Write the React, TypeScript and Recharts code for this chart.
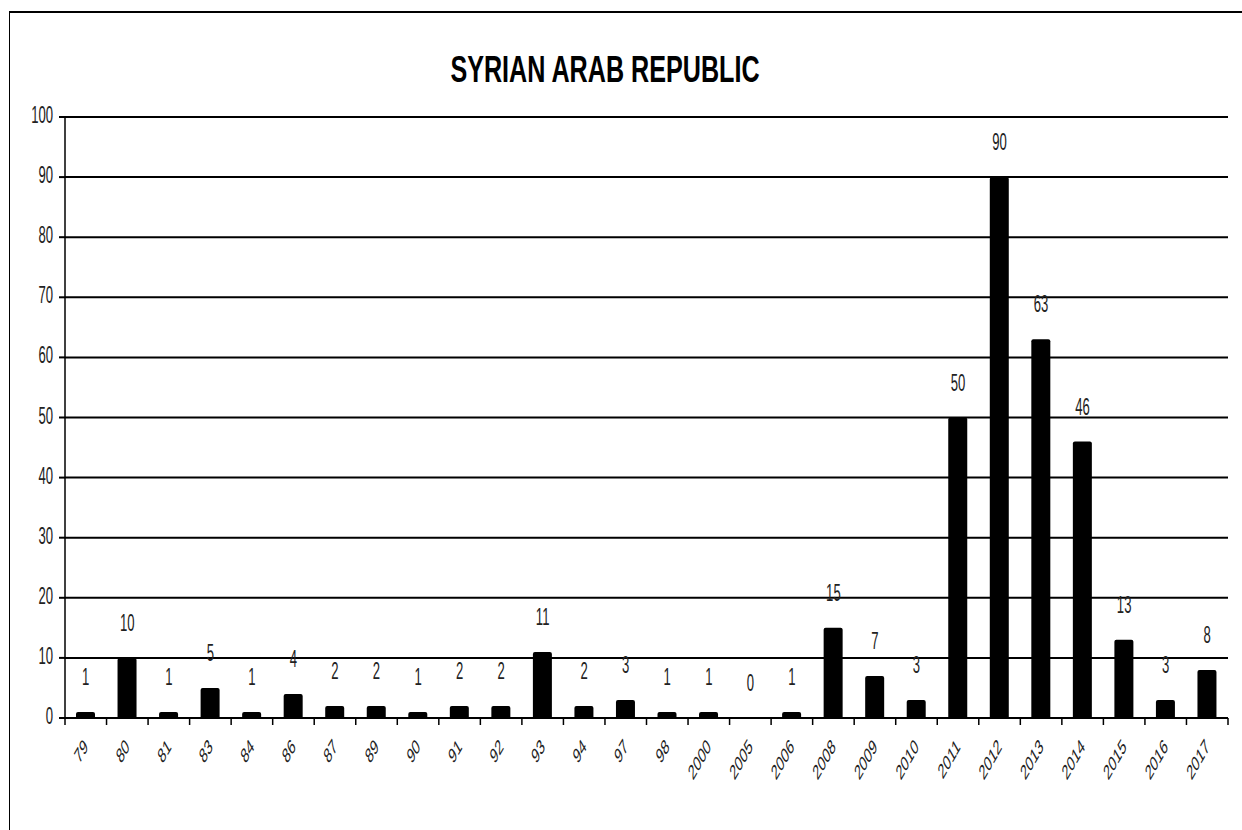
import React from 'react';
import { ComposedChart, Bar, Line, XAxis, YAxis, CartesianGrid, LabelList } from 'recharts';

const years = [
  '79', '80', '81', '83', '84', '86', '87', '89', '90', '91', '92', '93', '94', '97',
  '98', '2000', '2005', '2006', '2008', '2009', '2010', '2011', '2012', '2013', '2014',
  '2015', '2016', '2017',
];
const counts = [
  1, 10, 1, 5, 1, 4, 2, 2, 1, 2, 2, 11, 2, 3,
  1, 1, 0, 1, 15, 7, 3, 50, 90, 63, 46,
  13, 3, 8,
];
const yTicks = [0, 10, 20, 30, 40, 50, 60, 70, 80, 90, 100];
const title = 'SYRIAN ARAB REPUBLIC';

const data = years.map((year, i) => ({ year, count: counts[i] }));

const W = 1242;
const H = 830;
const margin = { top: 117, right: 14, bottom: 52, left: 15 };
const yAxisWidth = 50;
const band = (W - margin.left - margin.right - yAxisWidth) / years.length;
const font = 'Liberation Sans, Arial, sans-serif';
const squeeze = 0.57;

const XTick = (props: any) => {
  const { x, y, payload, index } = props;
  const left = x - band / 2;
  const right = x + band / 2;
  return (
    <g>
      <line x1={left} x2={left} y1={y} y2={y + 7} stroke="#000" strokeWidth={1.5} />
      {index === years.length - 1 && (
        <line x1={right} x2={right} y1={y} y2={y + 7} stroke="#000" strokeWidth={1.5} />
      )}
      <text
        transform={`translate(${x + 3},${y + 30}) scale(${squeeze},1) rotate(-45)`}
        textAnchor="end"
        fontFamily={font}
        fontSize={21}
        fill="#222"
      >
        {payload.value}
      </text>
    </g>
  );
};

const YTick = (props: any) => {
  const { x, y, payload } = props;
  return (
    <text
      transform={`translate(${x},${y + 6}) scale(${squeeze},1)`}
      textAnchor="end"
      fontFamily={font}
      fontSize={23}
      fill="#222"
    >
      {payload.value}
    </text>
  );
};

// labels hang off an invisible line so that the zero value gets one too
const ValueLabel = (props: any) => {
  const { x, y, value } = props;
  return (
    <text
      transform={`translate(${x},${y - 35 + 8}) scale(${squeeze},1)`}
      textAnchor="middle"
      fontFamily={font}
      fontSize={23}
      fill="#222"
    >
      {value}
    </text>
  );
};

export default function App() {
  return (
    <div style={{ position: 'absolute', left: 0, top: 0, width: W, height: H, overflow: 'hidden', background: '#fff' }}>
      <div
        style={{
          position: 'absolute',
          left: 9,
          top: 11,
          width: W + 100,
          height: H + 100,
          borderLeft: '1.5px solid #000',
          borderTop: '2px solid #000',
        }}
      />
      <svg width={W} height={H} style={{ position: 'absolute', left: 0, top: 0 }}>
        <text
          transform={`translate(605,82) scale(0.68,1)`}
          textAnchor="middle"
          fontFamily={font}
          fontWeight="bold"
          fontSize={37}
          fill="#000"
        >
          {title}
        </text>
      </svg>
      <div style={{ position: 'absolute', left: 0, top: 0 }}>
        <ComposedChart width={W} height={H} data={data} margin={margin}>
          <CartesianGrid vertical={false} stroke="#000" strokeWidth={2} />
          <XAxis
            dataKey="year"
            interval={0}
            height={60}
            tickSize={0}
            tickMargin={0}
            tickLine={false}
            axisLine={{ stroke: '#000', strokeWidth: 2 }}
            tick={<XTick />}
          />
          <YAxis
            width={yAxisWidth}
            domain={[0, 100]}
            ticks={yTicks}
            interval={0}
            tickSize={6}
            tickMargin={6}
            axisLine={{ stroke: '#000', strokeWidth: 1.5 }}
            tickLine={{ stroke: '#000', strokeWidth: 2 }}
            tick={<YTick />}
          />
          <YAxis
            yAxisId="right"
            orientation="right"
            width={0}
            domain={[0, 100]}
            tick={false}
            tickLine={false}
            axisLine={{ stroke: '#000', strokeWidth: 1.5 }}
          />
          <Bar dataKey="count" fill="#000" barSize={19} radius={[2, 2, 0, 0]} isAnimationActive={false} />
          <Line
            dataKey="count"
            stroke="none"
            dot={false}
            activeDot={false}
            legendType="none"
            isAnimationActive={false}
          >
            <LabelList dataKey="count" content={<ValueLabel />} />
          </Line>
        </ComposedChart>
      </div>
    </div>
  );
}
